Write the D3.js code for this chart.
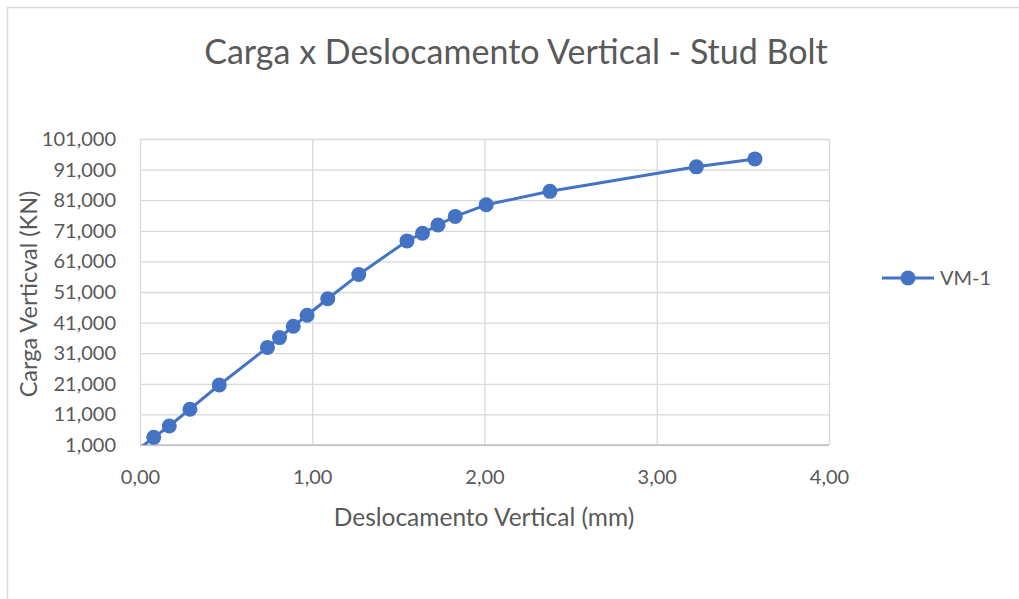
<!DOCTYPE html>
<html>
<head>
<meta charset="utf-8">
<script src="https://cdn.jsdelivr.net/npm/d3@7"></script>
<style>
  html, body { margin: 0; padding: 0; background: #fff; }
  svg { display: block; font-family: Lato, "Open Sans", sans-serif; }
</style>
</head>
<body>
<svg id="chart" width="1019" height="599"></svg>
<script>
// Load vs. vertical displacement, stud bolt VM-1
const seriesName = "VM-1";
const deslocamento = [0, 0.08, 0.17, 0.29, 0.46, 0.74, 0.81, 0.89, 0.97, 1.09, 1.27, 1.55, 1.64, 1.73, 1.83, 2.01, 2.38, 3.23, 3.57];
const carga = [0, 3500, 7200, 12700, 20600, 32900, 36100, 39800, 43400, 48800, 56700, 67700, 70200, 72900, 75700, 79500, 83900, 91900, 94500];
const xTicks = [0, 1, 2, 3, 4];
const yTicks = [1000, 11000, 21000, 31000, 41000, 51000, 61000, 71000, 81000, 91000, 101000];

const titleText = "Carga x Deslocamento Vertical - Stud Bolt";
const xTitle = "Deslocamento Vertical (mm)";
const yTitle = "Carga Verticval (KN)";

const color = "#4472C4";
const textColor = "#595959";
const gridColor = "#D9D9D9";

const svg = d3.select("#chart");
const plot = { left: 140, right: 829, top: 139, bottom: 445 };

const x = d3.scaleLinear().domain([0, 4]).range([plot.left, plot.right]);
const y = d3.scaleLinear().domain([1000, 101000]).range([plot.bottom, plot.top]);

// chart frame
svg.append("rect")
  .attr("x", 7.5).attr("y", 7.5)
  .attr("width", 1030).attr("height", 620)
  .attr("fill", "#fff").attr("stroke", "#D9D9D9").attr("stroke-width", 1.5);

// title
svg.append("text")
  .attr("x", 516).attr("y", 64)
  .attr("text-anchor", "middle")
  .attr("fill", textColor)
  .style("font-size", "34px")
  .text(titleText);

// horizontal gridlines + y labels
const yAxis = d3.axisLeft(y).tickValues(yTicks)
  .tickSize(-(plot.right - plot.left))
  .tickPadding(24)
  .tickFormat(d3.format(",d"));
const gy = svg.append("g").attr("transform", `translate(${plot.left},0)`).call(yAxis);
gy.select(".domain").remove();
gy.selectAll("line").attr("stroke", gridColor).attr("stroke-width", 1.3);
gy.selectAll("text").attr("fill", textColor).style("font-size", "20px")
  .attr("font-family", "Lato, sans-serif");

// vertical gridlines + x labels
const fmtX = v => d3.format(".2f")(v).replace(".", ",");
const xAxis = d3.axisBottom(x).tickValues(xTicks)
  .tickSize(-(plot.bottom - plot.top))
  .tickPadding(25)
  .tickFormat(fmtX);
const gx = svg.append("g").attr("transform", `translate(0,${plot.bottom})`).call(xAxis);
gx.select(".domain").remove();
gx.selectAll("line").attr("stroke", gridColor).attr("stroke-width", 1.3);
gx.selectAll("text").attr("fill", textColor).style("font-size", "20px")
  .attr("font-family", "Lato, sans-serif");

// bottom axis line
svg.append("line")
  .attr("x1", plot.left).attr("x2", plot.right)
  .attr("y1", plot.bottom).attr("y2", plot.bottom)
  .attr("stroke", "#BFBFBF").attr("stroke-width", 1.3);

// axis titles
svg.append("text")
  .attr("x", 484).attr("y", 526)
  .attr("text-anchor", "middle")
  .attr("fill", textColor)
  .style("font-size", "24.5px")
  .text(xTitle);

svg.append("text")
  .attr("transform", "translate(37,294) rotate(-90)")
  .attr("text-anchor", "middle")
  .attr("fill", textColor)
  .style("font-size", "23.5px")
  .text(yTitle);

// series
const data = deslocamento.map((d, i) => ({ x: d, y: carga[i] }));

svg.append("clipPath").attr("id", "plotClip")
  .append("rect")
  .attr("x", plot.left).attr("y", plot.top - 10)
  .attr("width", plot.right - plot.left + 10)
  .attr("height", plot.bottom - plot.top + 10);

const line = d3.line().x(d => x(d.x)).y(d => y(d.y));
svg.append("path")
  .datum(data)
  .attr("clip-path", "url(#plotClip)")
  .attr("fill", "none")
  .attr("stroke", color)
  .attr("stroke-width", 3)
  .attr("stroke-linejoin", "round")
  .attr("d", line);

svg.append("g")
  .selectAll("circle")
  .data(data.filter(d => d.y >= y.domain()[0]))
  .join("circle")
  .attr("cx", d => x(d.x))
  .attr("cy", d => y(d.y))
  .attr("r", 7.5)
  .attr("fill", color);

// legend
const lg = svg.append("g").attr("transform", "translate(882,278)");
lg.append("line").attr("x1", 0).attr("x2", 52).attr("y1", 0).attr("y2", 0)
  .attr("stroke", color).attr("stroke-width", 3);
lg.append("circle").attr("cx", 26).attr("cy", 0).attr("r", 7.5).attr("fill", color);
lg.append("text").attr("x", 58).attr("y", 0).attr("dy", "0.35em")
  .attr("fill", textColor).style("font-size", "20px").text(seriesName);
</script>
</body>
</html>
